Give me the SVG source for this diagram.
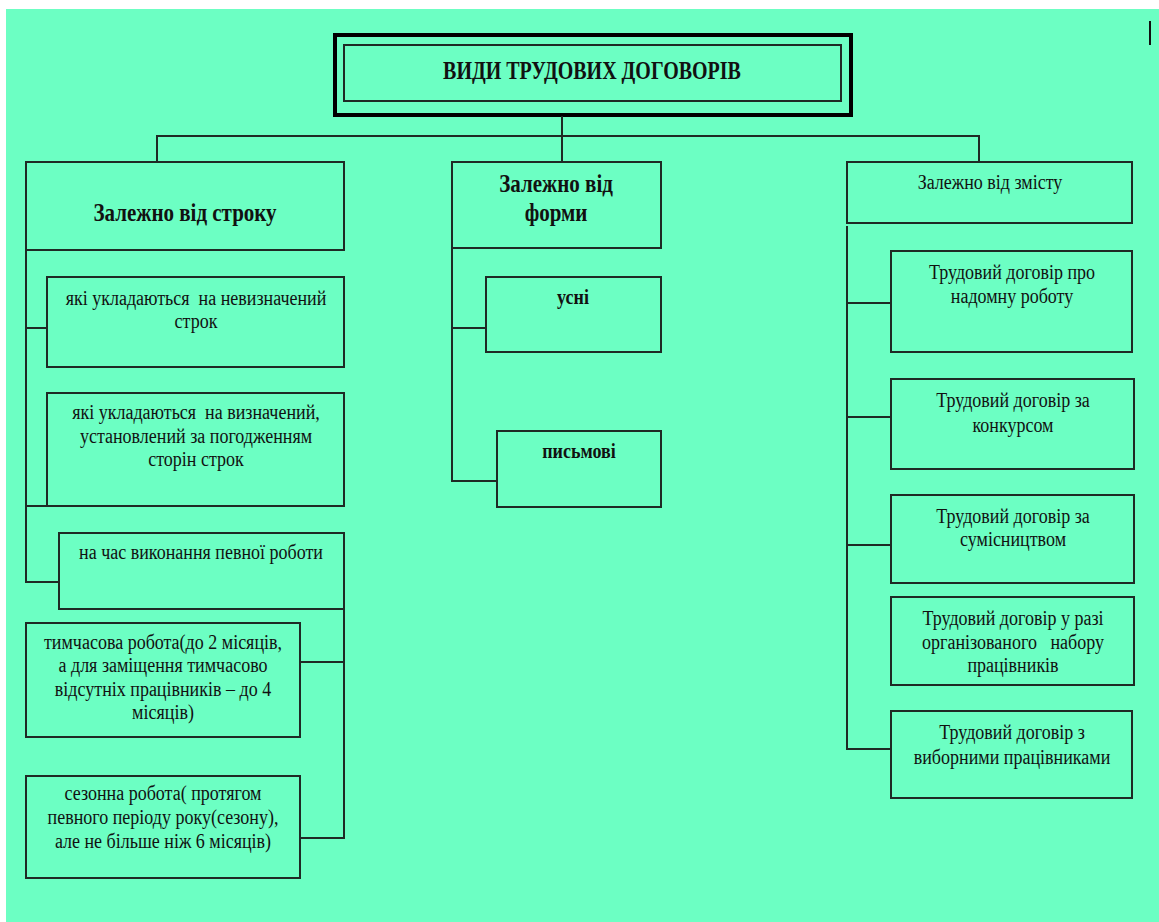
<svg xmlns="http://www.w3.org/2000/svg" width="1159" height="922" viewBox="0 0 1159 922" font-family="'Liberation Serif', 'Times New Roman', serif">
<style>
.box{fill:none;stroke:#1f2a25;stroke-width:2}
.ln{fill:none;stroke:#1f2a25;stroke-width:2}
text{font-family:'Liberation Serif','Times New Roman',serif;fill:#111;text-anchor:middle}
.t{font-size:18px}
.b{font-size:21px;font-weight:bold}
</style>
<rect x="0" y="0" width="1159" height="922" fill="#ffffff"/>
<rect x="6" y="9" width="1153" height="913" fill="#6cffc3"/>
<line x1="1150" y1="21" x2="1150" y2="45" stroke="#111" stroke-width="2"/>

<g id="title">
<rect x="335" y="35" width="516" height="80" fill="none" stroke="#000" stroke-width="4"/>
<rect x="344" y="45" width="497" height="56" class="box"/>
<text transform="translate(592 79) scale(1 1.3)" style="font-size:20px;font-weight:bold">ВИДИ ТРУДОВИХ ДОГОВОРІВ</text>
</g>

<g id="connectors">
<path class="ln" d="M562 116V136M157 162V136H979V162M562 136V162"/>
<path class="ln" d="M26 250V582H59M26 328H47M26 506H47"/>
<path class="ln" d="M344 609V838H300M300 662H344"/>
<path class="ln" d="M452 248V481H497M452 328H486"/>
<path class="ln" d="M847 226V749H891M847 303H891M847 417H891M847 545H891"/>
</g>

<g id="n-strok">
<rect x="26" y="162" width="318" height="88" class="box"/>
<text transform="translate(185 221) scale(1 1.15)" class="b">Залежно від строку</text>
</g>
<g id="n-nevyzn">
<rect x="47" y="277" width="297" height="90" class="box"/>
<text transform="translate(196 305) scale(1 1.2)" class="t" xml:space="preserve">які укладаються  на невизначений</text>
<text transform="translate(196 328) scale(1 1.2)" class="t">строк</text>
</g>
<g id="n-vyzn">
<rect x="47" y="393" width="297" height="113" class="box"/>
<text transform="translate(196 419) scale(1 1.2)" class="t" xml:space="preserve">які укладаються  на визначений,</text>
<text transform="translate(196 443) scale(1 1.2)" class="t">установлений за погодженням</text>
<text transform="translate(196 466) scale(1 1.2)" class="t">сторін строк</text>
</g>
<g id="n-chas">
<rect x="59" y="533" width="285" height="76" class="box"/>
<text transform="translate(201 559) scale(1 1.2)" class="t">на час виконання певної роботи</text>
</g>
<g id="n-tymch">
<rect x="26" y="623" width="274" height="114" class="box"/>
<text transform="translate(163 649) scale(1 1.2)" class="t">тимчасова робота(до 2 місяців,</text>
<text transform="translate(163 672) scale(1 1.2)" class="t">а для заміщення тимчасово</text>
<text transform="translate(163 696) scale(1 1.2)" class="t">відсутніх працівників – до 4</text>
<text transform="translate(163 719) scale(1 1.2)" class="t">місяців)</text>
</g>
<g id="n-sezon">
<rect x="26" y="776" width="274" height="102" class="box"/>
<text transform="translate(163 800) scale(1 1.2)" class="t">сезонна робота( протягом</text>
<text transform="translate(163 824) scale(1 1.2)" class="t">певного періоду року(сезону),</text>
<text transform="translate(163 848) scale(1 1.2)" class="t">але не більше ніж 6 місяців)</text>
</g>

<g id="n-forma">
<rect x="452" y="162" width="209" height="86" class="box"/>
<text transform="translate(556 192) scale(1 1.15)" class="b">Залежно від</text>
<text transform="translate(556 221) scale(1 1.15)" class="b">форми</text>
</g>
<g id="n-usni">
<rect x="486" y="277" width="175" height="75" class="box"/>
<text transform="translate(573 304) scale(1 1.2)" class="t" font-weight="bold">усні</text>
</g>
<g id="n-pysmovi">
<rect x="497" y="431" width="164" height="76" class="box"/>
<text transform="translate(579 458) scale(1 1.2)" class="t" font-weight="bold">письмові</text>
</g>

<g id="n-zmist">
<rect x="847" y="162" width="285" height="61" class="box"/>
<text transform="translate(990 189) scale(1 1.2)" class="t">Залежно від змісту</text>
</g>
<g id="n-nadomna">
<rect x="891" y="251" width="241" height="101" class="box"/>
<text transform="translate(1012 279) scale(1 1.2)" class="t">Трудовий договір про</text>
<text transform="translate(1012 303) scale(1 1.2)" class="t">надомну роботу</text>
</g>
<g id="n-konkurs">
<rect x="891" y="379" width="243" height="90" class="box"/>
<text transform="translate(1013 407) scale(1 1.2)" class="t">Трудовий договір за</text>
<text transform="translate(1013 432) scale(1 1.2)" class="t">конкурсом</text>
</g>
<g id="n-sumisn">
<rect x="891" y="495" width="243" height="88" class="box"/>
<text transform="translate(1013 523) scale(1 1.2)" class="t">Трудовий договір за</text>
<text transform="translate(1013 546) scale(1 1.2)" class="t">сумісництвом</text>
</g>
<g id="n-nabir">
<rect x="891" y="597" width="243" height="88" class="box"/>
<text transform="translate(1013 625) scale(1 1.2)" class="t">Трудовий договір у разі</text>
<text transform="translate(1013 649) scale(1 1.2)" class="t" xml:space="preserve">організованого   набору</text>
<text transform="translate(1013 672) scale(1 1.2)" class="t">працівників</text>
</g>
<g id="n-vyborni">
<rect x="891" y="711" width="241" height="87" class="box"/>
<text transform="translate(1012 739) scale(1 1.2)" class="t">Трудовий договір з</text>
<text transform="translate(1012 764) scale(1 1.2)" class="t">виборними працівниками</text>
</g>
</svg>
